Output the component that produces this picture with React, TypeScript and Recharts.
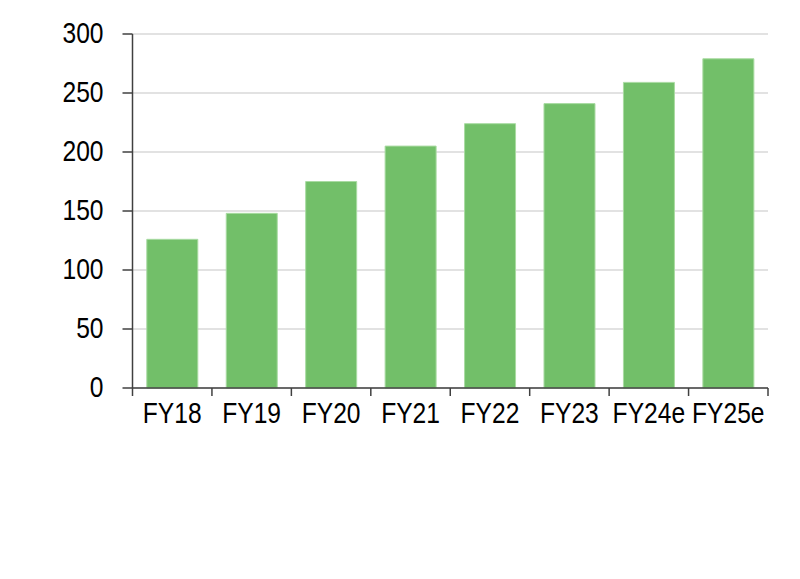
import { BarChart, Bar, XAxis, YAxis, CartesianGrid } from "recharts";

const categories = ["FY18", "FY19", "FY20", "FY21", "FY22", "FY23", "FY24e", "FY25e"];
const values = [126, 148, 175, 205, 224, 241, 259, 279];
const yTicks = [0, 50, 100, 150, 200, 250, 300];

const data = categories.map((name, i) => ({ name, value: values[i] }));

const FONT = "'Liberation Sans', Arial, sans-serif";
const BAND = (768 - 132.5) / categories.length;

function YTick({ x, y, payload }: any) {
  return (
    <text
      transform={`translate(${x - 17},${y}) scale(0.82,1)`}
      textAnchor="end"
      dy="0.3em"
      fontFamily={FONT}
      fontSize={30}
      fill="#000"
    >
      {payload.value}
    </text>
  );
}

function XTick({ x, y, payload, index }: any) {
  const left = x - BAND / 2;
  const last = index === categories.length - 1;
  return (
    <g>
      <line x1={left} x2={left} y1={y - 8} y2={y} stroke="#404040" strokeWidth={1.5} />
      {last && <line x1={x + BAND / 2} x2={x + BAND / 2} y1={y - 8} y2={y} stroke="#404040" strokeWidth={1.5} />}
      <text
        transform={`translate(${x},${y + 26.5}) scale(0.82,1)`}
        textAnchor="middle"
        fontFamily={FONT}
        fontSize={30}
        fill="#000"
      >
        {payload.value}
      </text>
    </g>
  );
}

export default function App() {
  return (
    <div style={{ position: "absolute", left: 0, top: 0, width: 800, height: 579, background: "#fff" }}>
      <BarChart
        width={800}
        height={579}
        data={data}
        margin={{ top: 34, right: 32, left: 0, bottom: 151 }}
        barCategoryGap="18%"
      >
        <CartesianGrid vertical={false} stroke="#d9d9d9" strokeWidth={1.5} />
        <XAxis
          dataKey="name"
          height={40}
          axisLine={{ stroke: "#404040", strokeWidth: 1.5 }}
          tickLine={false}
          interval={0}
          tick={<XTick />}
        />
        <YAxis
          width={132.5}
          domain={[0, 300]}
          ticks={yTicks}
          interval={0}
          tickSize={10}
          axisLine={{ stroke: "#404040", strokeWidth: 1.5 }}
          tickLine={{ stroke: "#404040", strokeWidth: 1.5 }}
          tick={<YTick />}
        />
        <Bar dataKey="value" fill="#72bf69" stroke="#a9dba2" strokeWidth={1} isAnimationActive={false} />
      </BarChart>
    </div>
  );
}
